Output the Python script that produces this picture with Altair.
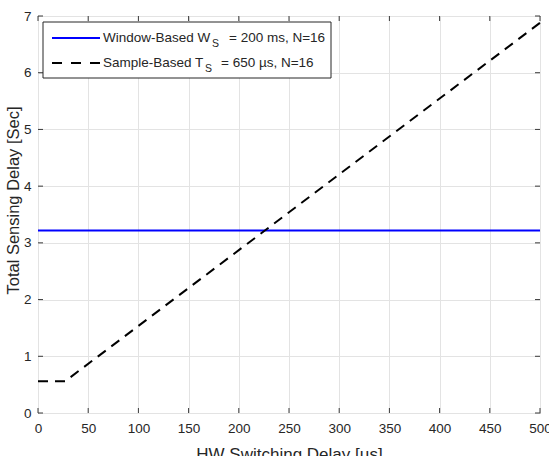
import altair as alt
import pandas as pd

# ---- data ----
hw_delay = [0, 27, 500]
sample_based = [0.56, 0.56, 6.88]
window_x = [0, 500]
window_based = [3.22, 3.22]

x_ticks = [0, 50, 100, 150, 200, 250, 300, 350, 400, 450, 500]
y_ticks = [0, 1, 2, 3, 4, 5, 6, 7]

FONT = "Liberation Sans"
W, H = 502, 397
TXT = "#262626"

df_win = pd.DataFrame({"x": window_x, "y": window_based})
df_smp = pd.DataFrame({"x": hw_delay, "y": sample_based})
df_xt = pd.DataFrame({"x": x_ticks})
df_yt = pd.DataFrame({"y": y_ticks})
one = pd.DataFrame({"a": [0]})

xscale = alt.Scale(domain=[0, 500], nice=False, zero=False)
yscale = alt.Scale(domain=[0, 7], nice=False, zero=False)

xaxis = alt.Axis(values=x_ticks, format="d", grid=True, ticks=False, tickSize=0, domain=False,
                 labelFontSize=13.5, labelFont=FONT, labelColor=TXT, labelPadding=8,
                 title="HW Switching Delay [µs]", titleFont=FONT, titleFontSize=17,
                 titleFontWeight="normal", titleColor=TXT, titleBaseline="alphabetic",
                 titleY=46, titleX=W / 2, gridColor="#e3e3e3", labelFlush=False)
yaxis = alt.Axis(values=y_ticks, format="d", grid=True, ticks=False, tickSize=0, domain=False,
                 labelFontSize=13.5, labelFont=FONT, labelColor=TXT, labelPadding=7,
                 title="Total Sensing Delay [Sec]", titleFont=FONT, titleFontSize=16.5,
                 titleFontWeight="normal", titleColor=TXT, titleAngle=270,
                 titleBaseline="alphabetic", titleAlign="center", titleX=-20, titleY=184,
                 gridColor="#e3e3e3", labelFlush=False)

base_grid = alt.Chart(df_win).mark_line(opacity=0).encode(
    x=alt.X("x:Q", scale=xscale, axis=xaxis),
    y=alt.Y("y:Q", scale=yscale, axis=yaxis),
)

line_win = alt.Chart(df_win).mark_line(color="#0000ff", strokeWidth=2).encode(
    x=alt.X("x:Q", scale=xscale), y=alt.Y("y:Q", scale=yscale))
line_smp = alt.Chart(df_smp).mark_line(color="#000000", strokeWidth=2,
                                       strokeDash=[10, 7]).encode(
    x=alt.X("x:Q", scale=xscale), y=alt.Y("y:Q", scale=yscale))

tick_col = "#3a3a3a"
tb = alt.Chart(df_xt).mark_rule(color=tick_col, strokeWidth=1).encode(
    x=alt.X("x:Q", scale=xscale), y=alt.value(H), y2=alt.value(H - 5))
tt = alt.Chart(df_xt).mark_rule(color=tick_col, strokeWidth=1).encode(
    x=alt.X("x:Q", scale=xscale), y=alt.value(0), y2=alt.value(5))
tl = alt.Chart(df_yt).mark_rule(color=tick_col, strokeWidth=1).encode(
    y=alt.Y("y:Q", scale=yscale), x=alt.value(0), x2=alt.value(5))
tr = alt.Chart(df_yt).mark_rule(color=tick_col, strokeWidth=1).encode(
    y=alt.Y("y:Q", scale=yscale), x=alt.value(W), x2=alt.value(W - 5))

# ---- legend (drawn manually for subscripts) ----
leg_box = alt.Chart(one).mark_rect(fill="white", stroke="#262626", strokeWidth=1).encode(
    x=alt.value(5), x2=alt.value(293), y=alt.value(6), y2=alt.value(62))
leg_l1 = alt.Chart(one).mark_rule(color="#0000ff", strokeWidth=2).encode(
    x=alt.value(14), x2=alt.value(62), y=alt.value(22))
leg_l2 = alt.Chart(one).mark_rule(color="#000000", strokeWidth=2, strokeDash=[10, 9]).encode(
    x=alt.value(14), x2=alt.value(62), y=alt.value(47))


def txt(s, x, y, size=13.5):
    return alt.Chart(one).mark_text(align="left", baseline="middle", font=FONT,
                                    fontSize=size, color=TXT).encode(
        x=alt.value(x), y=alt.value(y), text=alt.value(s))


legend = [
    leg_box, leg_l1, leg_l2,
    txt("Window-Based W", 65, 22), txt("S", 174, 28, 10.5), txt("= 200 ms, N=16", 191, 22),
    txt("Sample-Based T", 65, 47), txt("S", 167, 53, 10.5), txt("= 650 µs, N=16", 183, 47),
]

chart = alt.layer(base_grid, line_win, line_smp, tb, tt, tl, tr, *legend).properties(
    width=W, height=H,
    autosize=alt.AutoSizeParams(type="none"),
    padding={"left": 38, "top": 16, "right": 9, "bottom": 43},
    background="white",
).configure_view(stroke="#3a3a3a", strokeWidth=1)

chart.save("out.html", embed_options={"renderer": "svg", "actions": False})
